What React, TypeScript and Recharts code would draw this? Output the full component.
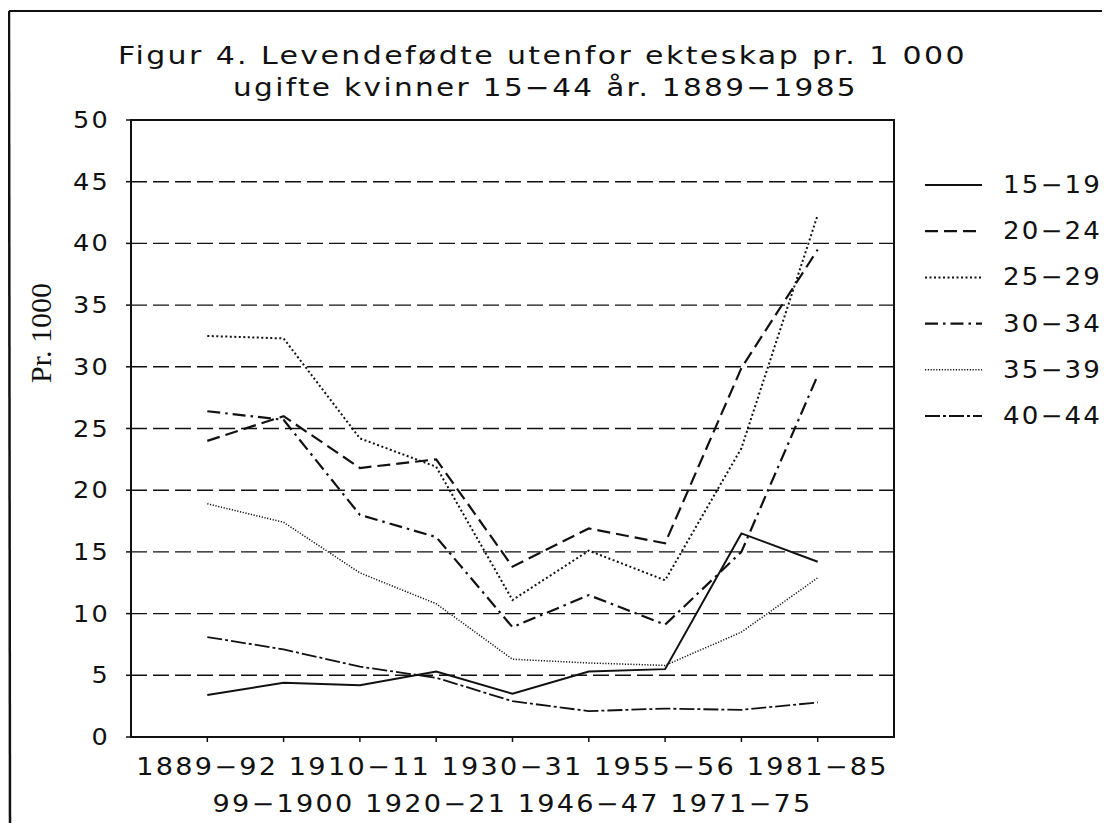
import { CartesianGrid, Customized, Line, LineChart, ReferenceArea, XAxis, YAxis } from "recharts";

// perioder og verdier (levendefødte utenfor ekteskap pr. 1000 ugifte kvinner)
const periods = ["1889−92", "99−1900", "1910−11", "1920−21", "1930−31", "1946−47", "1955−56", "1971−75", "1981−85"];
const age15_19 = [3.4, 4.4, 4.2, 5.3, 3.5, 5.3, 5.5, 16.5, 14.2];
const age20_24 = [24.0, 26.0, 21.8, 22.5, 13.8, 16.9, 15.7, 29.9, 39.5];
const age25_29 = [32.5, 32.3, 24.2, 21.9, 11.1, 15.1, 12.7, 23.4, 42.3];
const age30_34 = [26.4, 25.7, 18.0, 16.2, 8.9, 11.5, 9.1, 15.0, 29.3];
const age35_39 = [18.9, 17.4, 13.3, 10.8, 6.3, 6.0, 5.8, 8.5, 12.9];
const age40_44 = [8.1, 7.1, 5.7, 4.8, 2.9, 2.1, 2.3, 2.2, 2.8];
const yTicks = [0, 5, 10, 15, 20, 25, 30, 35, 40, 45, 50];
const xTicks = [1, 2, 3, 4, 5, 6, 7, 8, 9];

// slot 0 og 10 er tomme marger på hver side av aksen
const data = periods.map((period, i) => ({
  slot: i + 1,
  period,
  a15: age15_19[i],
  a20: age20_24[i],
  a25: age25_29[i],
  a30: age30_34[i],
  a35: age35_39[i],
  a40: age40_44[i]
}));

const series = [
  { key: "a15", name: "15−19", dash: undefined, width: 2 },
  { key: "a20", name: "20−24", dash: "13 6", width: 2.2 },
  { key: "a25", name: "25−29", dash: "2 2.5", width: 2 },
  { key: "a30", name: "30−34", dash: "13 5 2.5 5", width: 2.2 },
  { key: "a35", name: "35−39", dash: "1.2 1.6", width: 1.5 },
  { key: "a40", name: "40−44", dash: "15 3 3 3", width: 1.8 }
];

const INK = "#111";
const PLOT = "'DejaVu Sans', Verdana, sans-serif";
const CHAR = 20.3;

// plotterskrift: bred tekst strukket til fast bredde
function Wide({ x, y, w, size, children }: { x: number; y: number; w: number; size: number; children: string }) {
  return (
    <text
      x={x}
      y={y}
      fontFamily={PLOT}
      fontSize={size}
      letterSpacing={2}
      fill={INK}
      textLength={w}
      lengthAdjust="spacingAndGlyphs"
    >
      {children}
    </text>
  );
}

function XTick(props: any) {
  const { x, payload } = props;
  const idx = payload.value - 1;
  const label = periods[idx] ?? "";
  const w = label.length * CHAR;
  return (
    <Wide x={x - w / 2} y={idx % 2 === 0 ? 775 : 812} w={w} size={24}>
      {label}
    </Wide>
  );
}

function YTick(props: any) {
  const { y, payload } = props;
  const label = String(payload.value);
  const w = label.length * 18.5;
  return (
    <Wide x={110 - w} y={y + 8} w={w} size={23}>
      {label}
    </Wide>
  );
}

function Decor() {
  return (
    <g>
      <line x1={9} x2={1110} y1={11} y2={11} stroke={INK} strokeWidth={2} />
      <line x1={9} x2={10} y1={11} y2={831} stroke={INK} strokeWidth={2.5} />
      <Wide x={118} y={64} w={849} size={25}>
        Figur 4. Levendefødte utenfor ekteskap pr. 1 000
      </Wide>
      <Wide x={233} y={96} w={625} size={25}>
        ugifte kvinner 15−44 år. 1889−1985
      </Wide>
      <text
        x={0}
        y={0}
        transform="translate(51 333) rotate(-90)"
        textAnchor="middle"
        fontFamily="'Liberation Serif', serif"
        fontSize={30}
        fill={INK}
      >
        Pr. 1000
      </text>
    </g>
  );
}

function LegendBox() {
  return (
    <svg width={200} height={280}>
      {series.map((s, i) => {
        const cy = 20 + i * 46.2;
        return (
          <g key={s.key}>
            <line x1={10} x2={67} y1={cy} y2={cy} stroke={INK} strokeWidth={s.width} strokeDasharray={s.dash} />
            <Wide x={88} y={cy + 8} w={99} size={24}>
              {s.name}
            </Wide>
          </g>
        );
      })}
    </svg>
  );
}

export default function App() {
  return (
    <div style={{ margin: -8, width: 1110, height: 831, background: "#fff", position: "relative" }}>
      <LineChart width={1110} height={831} data={data} margin={{ top: 120, right: 216, left: 71, bottom: 14 }}>
        <CartesianGrid vertical={false} stroke={INK} strokeWidth={1.4} strokeDasharray="16 6" />
        <ReferenceArea x1={0} x2={10} y1={0} y2={50} fill="none" stroke={INK} strokeWidth={2} />
        <XAxis
          type="number"
          dataKey="slot"
          domain={[0, 10]}
          ticks={xTicks}
          height={80}
          axisLine={{ stroke: INK, strokeWidth: 2 }}
          tickLine={{ stroke: INK, strokeWidth: 1.5 }}
          tickSize={5}
          tick={<XTick />}
          interval={0}
        />
        <YAxis
          domain={[0, 50]}
          ticks={yTicks}
          width={60}
          axisLine={{ stroke: INK, strokeWidth: 2 }}
          tickLine={{ stroke: INK, strokeWidth: 1.5 }}
          tickSize={5}
          tick={<YTick />}
          interval={0}
        />
        {series.map((s) => (
          <Line
            key={s.key}
            type="linear"
            dataKey={s.key}
            name={s.name}
            stroke={INK}
            strokeWidth={s.width}
            strokeDasharray={s.dash}
            dot={false}
            activeDot={false}
            isAnimationActive={false}
          />
        ))}
        <Customized component={Decor} />
      </LineChart>
      <div style={{ position: "absolute", left: 915, top: 165 }}>
        <LegendBox />
      </div>
    </div>
  );
}
